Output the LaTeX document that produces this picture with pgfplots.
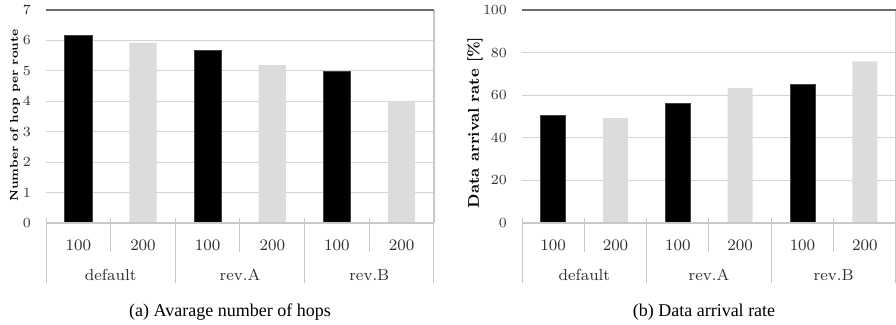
\documentclass[border=0pt]{standalone}
\usepackage{fontspec}
\usepackage{pgfplots}
\pgfplotsset{compat=1.18}
\newfontfamily\capfont{Liberation Serif}
\definecolor{barlight}{HTML}{DCDCDC}
\definecolor{gridc}{HTML}{D4D4D4}
\definecolor{sepc}{HTML}{C8C8C8}
\definecolor{topc}{HTML}{6E6E6E}
\definecolor{labc}{HTML}{303030}

\tikzset{
  sep/.style={sepc, line width=0.5pt},
  grp/.style={font=\fontsize{8}{9}\selectfont, text=labc, yshift=-26pt},
}

\pgfplotsset{
  panel/.style={
    scale only axis,
    anchor=south west,
    xmin=0, xmax=6, ymin=0,
    axis line style={draw=none},
    tick style={draw=none},
    ymajorgrids,
    grid style={gridc, line width=0.6pt},
    xtick={0.5,1.5,...,5.5},
    xticklabels={100,200,100,200,100,200},
    xticklabel style={anchor=center, yshift=-11pt, font=\fontsize{8}{9}\selectfont, text=labc},
    yticklabel style={xshift=-4pt, font=\fontsize{7}{8}\selectfont, text=labc},
    clip=false,
  },
  darkbar/.style={ybar, fill=black, draw=black!75, line width=0.4pt},
  lightbar/.style={ybar, fill=barlight, draw=none},
}

% frame lines, category separators and group names below the x axis
\newcommand{\frameparts}{%
  \draw[sepc, line width=0.6pt] (rel axis cs:0,0) -- (rel axis cs:1,0);
  \draw[sepc, line width=0.6pt] (rel axis cs:1,0) -- (rel axis cs:1,1);
  \draw[topc, line width=1pt] (rel axis cs:0,1) -- (rel axis cs:1,1);
  \draw[sep] (axis cs:0,0) ++(0,2.5pt) -- ++(0,-32.5pt);
  \draw[sep] (axis cs:2,0) ++(0,2.5pt) -- ++(0,-32.5pt);
  \draw[sep] (axis cs:4,0) ++(0,2.5pt) -- ++(0,-32.5pt);
  \draw[sep] (axis cs:6,0) ++(0,2.5pt) -- ++(0,-32.5pt);
  \draw[sep] (axis cs:1,0) ++(0,2.5pt) -- ++(0,-17pt);
  \draw[sep] (axis cs:3,0) ++(0,2.5pt) -- ++(0,-17pt);
  \draw[sep] (axis cs:5,0) ++(0,2.5pt) -- ++(0,-17pt);
  \node[grp] at (axis cs:1,0) {default};
  \node[grp] at (axis cs:3,0) {rev.A};
  \node[grp] at (axis cs:5,0) {rev.B};
}

\begin{document}
\begin{tikzpicture}
\useasboundingbox (0,0) rectangle (448pt,162.5pt);

% (a) average number of hops
\begin{axis}[panel, at={(23pt,51pt)}, width=194pt, height=106.5pt,
  ymax=7, ytick={0,1,...,7}, bar width=0.42]
  \addplot[darkbar] table[x=x, y=hops] {
    x hops
    0.5 6.15
    2.5 5.67
    4.5 4.98
  };
  \addplot[lightbar] table[x=x, y=hops] {
    x hops
    1.5 5.93
    3.5 5.19
    5.5 4.01
  };
  \frameparts
\end{axis}

% (b) data arrival rate
\begin{axis}[panel, at={(261pt,51pt)}, width=187pt, height=106.5pt,
  ymax=100, ytick={0,20,...,100}, bar width=0.40]
  \addplot[darkbar] table[x=x, y=rate] {
    x rate
    0.5 50.3
    2.5 56.1
    4.5 65.2
  };
  \addplot[lightbar] table[x=x, y=rate] {
    x rate
    1.5 49.2
    3.5 63.4
    5.5 75.9
  };
  \frameparts
\end{axis}

\node[rotate=90, font=\bfseries\fontsize{5.6}{6.5}\selectfont] at (7.5pt,104.75pt) {Number of hop per route};
\node[rotate=90, font=\bfseries\fontsize{7.7}{8.5}\selectfont] at (237.5pt,101.25pt) {Data arrival rate [\%]};

\node[font=\capfont\fontsize{9}{10}\selectfont] at (115pt,6.5pt) {(a) Avarage number of hops};
\node[font=\capfont\fontsize{9}{10}\selectfont] at (352pt,6.5pt) {(b) Data arrival rate};
\end{tikzpicture}
\end{document}
